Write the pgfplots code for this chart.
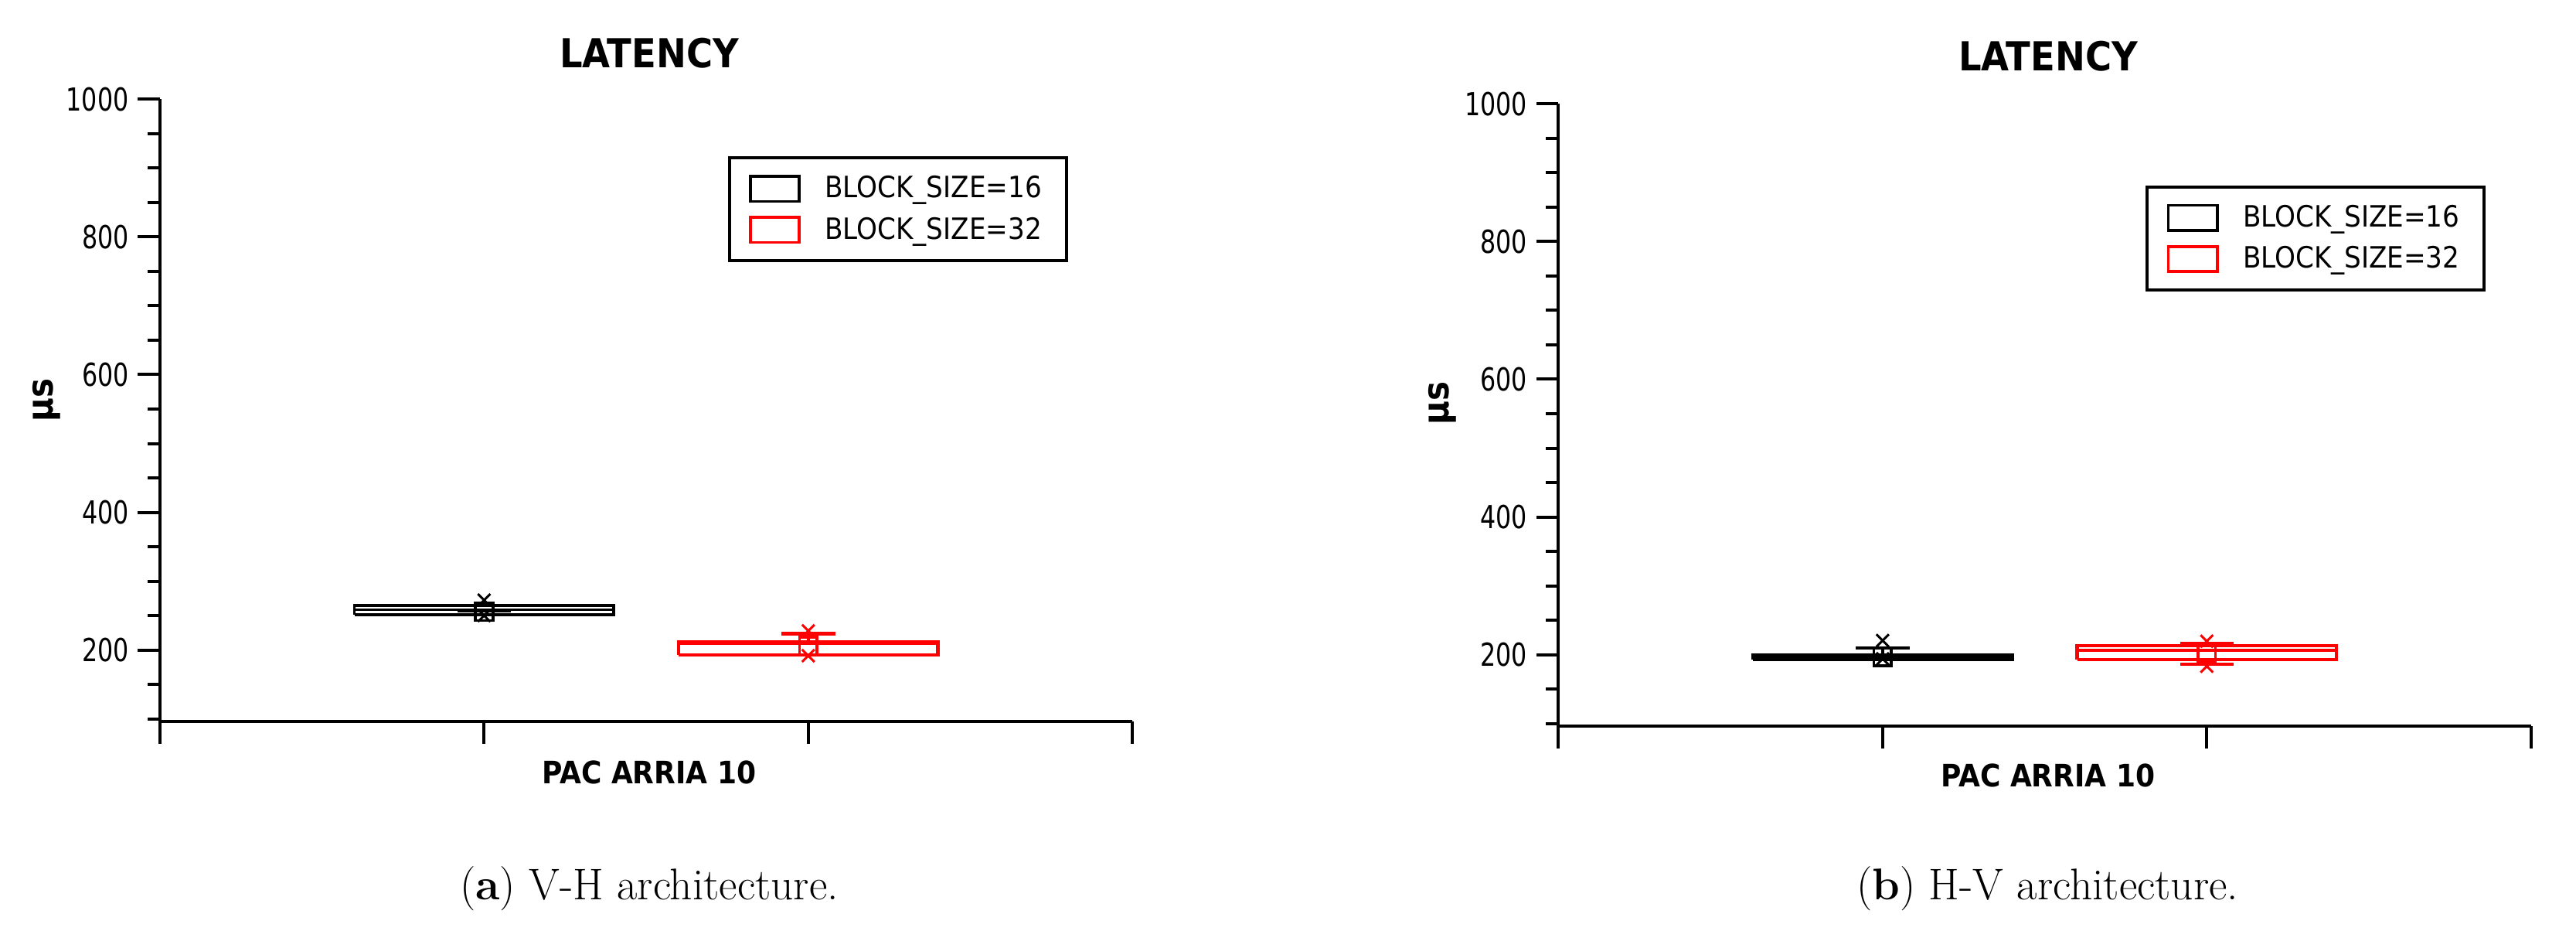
\documentclass[border=0pt]{standalone}
\usepackage{fontspec}
\usepackage{pgfplots}
\pgfplotsset{compat=1.18}
\newfontfamily\cf{DejaVu Sans Condensed}
\newfontfamily\cfn{DejaVu Sans Condensed}[FakeStretch=0.86]

\pgfplotsset{
  boxleg/.style={legend image code/.code={\draw[##1] (0pt,-4.85pt) rectangle (19pt,4.85pt);}},
  lat/.style={
    scale only axis, width=377.5pt, height=241.5pt,
    xmin=0, xmax=3, ymin=96, ymax=1000,
    axis x line*=bottom, axis y line*=left,
    axis line style={line width=1.2pt},
    xtick={0,1,2,3}, xticklabels={},
    ytick={200,400,600,800,1000},
    minor ytick={100,150,250,300,350,450,500,550,650,700,750,850,900,950},
    tick align=outside,
    major tick length=8.6pt, minor tick length=4.8pt,
    tick style={line width=1.2pt, black},
    /pgf/number format/assume math mode=true,
    /pgf/number format/1000 sep={},
    yticklabel style={font=\cfn\fontsize{12.3}{14}\selectfont},
    every axis title shift=0pt,
    title style={font=\cf\bfseries\fontsize{15.5}{18}\selectfont, anchor=center},
    xlabel style={font=\cf\bfseries\fontsize{12}{14}\selectfont, anchor=center},
    ylabel style={font=\cf\bfseries\fontsize{14}{16}\selectfont, anchor=center},
    legend style={anchor=north west, draw=black, line width=1.2pt,
      font=\cf\fontsize{11.4}{13}\selectfont, inner xsep=7.6pt, inner ysep=5pt,
      row sep=2pt, column sep=7.4pt},
    legend cell align=left,
    clip=false,
  },
  s16/.style={black, line width=1.1pt, forget plot, mark=none},
  s32/.style={red, line width=1.3pt, forget plot, mark=none},
  mean/.style={only marks, mark=square, mark size=3.4pt, line width=1.1pt},
  pct/.style={only marks, mark=x, mark size=3.4pt, line width=0.9pt},
}

\begin{document}
\begin{tikzpicture}
% (a) V-H architecture
\begin{axis}[lat, at={(62.1pt,81pt)}, anchor=south west,
  title={LATENCY}, title style={at={(axis description cs:0.503,1.0745)}},
  xlabel={PAC ARRIA 10}, xlabel style={at={(axis description cs:0.503,-0.082)}},
  ylabel={µs}, ylabel style={at={(axis description cs:-0.1168,0.517)}},
  legend style={at={(axis description cs:0.584,0.908)}}]
\addlegendimage{boxleg, black, line width=1.1pt}
\addlegendentry{BLOCK\_SIZE=16}
\addlegendimage{boxleg, red, line width=1.1pt}
\addlegendentry{BLOCK\_SIZE=32}
% BLOCK_SIZE=16: box, median, whisker caps
\addplot[s16] coordinates {(0.6,251.2) (1.4,251.2) (1.4,264.9) (0.6,264.9) (0.6,251.2)};
\addplot[s16] coordinates {(0.6,258.5) (1.4,258.5)};
\addplot[s16] coordinates {(1,255.5) (1,257)};
\addplot[s16] coordinates {(0.917,256.3) (1.083,256.3)};
\addplot[s16, mean] coordinates {(1,255.7)};
\addplot[s16, pct] coordinates {(1,272.5) (1,250)};
% BLOCK_SIZE=32
\addplot[s32] coordinates {(1.6,193.2) (2.4,193.2) (2.4,211.4) (1.6,211.4) (1.6,193.2)};
\addplot[s32] coordinates {(1.6,210.2) (2.4,210.2)};
\addplot[s32] coordinates {(2,211.4) (2,223.6)};
\addplot[s32] coordinates {(1.917,223.6) (2.083,223.6)};
\addplot[s32, mean] coordinates {(2,206)};
\addplot[s32, pct] coordinates {(2,227.8) (2,191.8)};
\end{axis}
% (b) H-V architecture
\begin{axis}[lat, at={(605pt,79.2pt)}, anchor=south west,
  title={LATENCY}, title style={at={(axis description cs:0.5035,1.077)}},
  xlabel={PAC ARRIA 10}, xlabel style={at={(axis description cs:0.5035,-0.0795)}},
  ylabel={µs}, ylabel style={at={(axis description cs:-0.119,0.519)}},
  legend style={at={(axis description cs:0.604,0.869)}}]
\addlegendimage{boxleg, black, line width=1.1pt}
\addlegendentry{BLOCK\_SIZE=16}
\addlegendimage{boxleg, red, line width=1.1pt}
\addlegendentry{BLOCK\_SIZE=32}
% BLOCK_SIZE=16
\addplot[s16, line width=1.3pt] coordinates {(0.6,193.3) (1.4,193.3) (1.4,199.7) (0.6,199.7) (0.6,193.3)};
\addplot[s16, line width=1.3pt] coordinates {(0.6,196.5) (1.4,196.5)};
\addplot[s16] coordinates {(1,199.7) (1,209.7)};
\addplot[s16] coordinates {(0.917,209.7) (1.083,209.7)};
\addplot[s16, mean] coordinates {(1,196.3)};
\addplot[s16, pct] coordinates {(1,220.6) (1,194)};
% BLOCK_SIZE=32
\addplot[s32] coordinates {(1.6,193.2) (2.4,193.2) (2.4,213.4) (1.6,213.4) (1.6,193.2)};
\addplot[s32] coordinates {(1.6,206.4) (2.4,206.4)};
\addplot[s32] coordinates {(2,213.4) (2,216.1)};
\addplot[s32] coordinates {(1.917,216.1) (2.083,216.1)};
\addplot[s32] coordinates {(2,193.2) (2,186.2)};
\addplot[s32] coordinates {(1.917,186.2) (2.083,186.2)};
\addplot[s32, mean] coordinates {(2,203)};
\addplot[s32, pct] coordinates {(2,219.5) (2,183.2)};
\end{axis}
\node[anchor=base, font=\fontsize{17.2}{20}\selectfont] at (252pt,12pt) {(\textbf{a}) V-H architecture.};
\node[anchor=base, font=\fontsize{17.2}{20}\selectfont] at (794.8pt,12pt) {(\textbf{b}) H-V architecture.};
\pgfresetboundingbox
\path[use as bounding box] (0,0) rectangle (1000pt,361pt);
\end{tikzpicture}
\end{document}
